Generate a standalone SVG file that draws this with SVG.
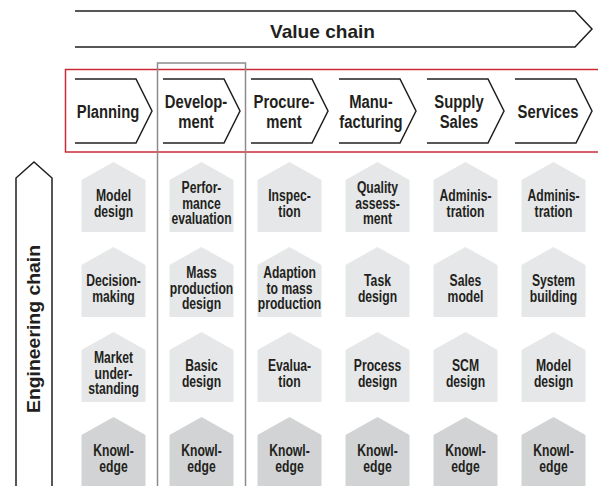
<svg xmlns="http://www.w3.org/2000/svg" width="598" height="486" viewBox="0 0 598 486">
<style>
.ln{fill:none;stroke:#231f20;stroke-width:1.5;stroke-linejoin:miter}
.t{font-family:"Liberation Sans",Arial,sans-serif;font-weight:bold;fill:#231f20;text-anchor:middle}
.big{font-family:"Liberation Sans",Arial,sans-serif;font-weight:bold;fill:#231f20;text-anchor:middle;font-size:19px}
.hd{font-size:19px}
.hs{font-size:16px}
.h1{fill:#e6e7e8}
.h2{fill:#d1d3d4}
</style>
<g id="value-chain">
<path class="ln" d="M75,11 H575 L592,29 L575,47 H75"/>
<text class="big" x="322.5" y="38" textLength="105" lengthAdjust="spacingAndGlyphs">Value chain</text>
</g>
<g id="engineering-chain">
<path class="ln" d="M16,490 V178 L34,162 L52,178 V490"/>
<text class="big" transform="translate(40,329) rotate(-90)" x="0" y="0" textLength="168" lengthAdjust="spacingAndGlyphs">Engineering chain</text>
</g>
<g id="value-chain-steps">
<rect x="65.5" y="69.5" width="560" height="82.5" fill="none" stroke="#cc2a36" stroke-width="1.5"/>
<g id="step-planning"><path class="ln" d="M75,79 H136 L152,111 L136,143 H75"/><text class="t hd" transform="matrix(0.78,0,0,1,108,118)">Planning</text></g>
<g id="step-development"><path class="ln" d="M163,79 H224 L240,111 L224,143 H163"/><text class="t hd" transform="matrix(0.78,0,0,1,196,108)">Develop-</text><text class="t hd" transform="matrix(0.78,0,0,1,196,128)">ment</text></g>
<g id="step-procurement"><path class="ln" d="M251,79 H312 L328,111 L312,143 H251"/><text class="t hd" transform="matrix(0.78,0,0,1,284,108)">Procure-</text><text class="t hd" transform="matrix(0.78,0,0,1,284,128)">ment</text></g>
<g id="step-manufacturing"><path class="ln" d="M339,79 H400 L416,111 L400,143 H339"/><text class="t hd" transform="matrix(0.78,0,0,1,371,108)">Manu-</text><text class="t hd" transform="matrix(0.78,0,0,1,371,128)">facturing</text></g>
<g id="step-supply"><path class="ln" d="M427,79 H488 L504,111 L488,143 H427"/><text class="t hd" transform="matrix(0.78,0,0,1,459,108)">Supply</text><text class="t hd" transform="matrix(0.78,0,0,1,459,128)">Sales</text></g>
<g id="step-services"><path class="ln" d="M515,79 H576 L592,111 L576,143 H515"/><text class="t hd" transform="matrix(0.78,0,0,1,548,118)">Services</text></g>
</g>
<rect id="development-column" x="157.5" y="63" width="88" height="440" fill="none" stroke="#8c8c8c" stroke-width="1.5"/>
<g id="houses">
<g id="c0r0"><polygon class="h1" points="81.5,180 113.5,162 145.5,180 145.5,232 81.5,232"/><text class="t hs" transform="matrix(0.76,0,0,1,113.5,201)">Model</text><text class="t hs" transform="matrix(0.76,0,0,1,113.5,216.5)">design</text></g>
<g id="c0r1"><polygon class="h1" points="81.5,265 113.5,247 145.5,265 145.5,317 81.5,317"/><text class="t hs" transform="matrix(0.76,0,0,1,113.5,286)">Decision-</text><text class="t hs" transform="matrix(0.76,0,0,1,113.5,301.5)">making</text></g>
<g id="c0r2"><polygon class="h1" points="81.5,350 113.5,332 145.5,350 145.5,402 81.5,402"/><text class="t hs" transform="matrix(0.76,0,0,1,113.5,363)">Market</text><text class="t hs" transform="matrix(0.76,0,0,1,113.5,378.5)">under-</text><text class="t hs" transform="matrix(0.76,0,0,1,113.5,394)">standing</text></g>
<g id="c0r3"><polygon class="h2" points="81.5,435 113.5,417 145.5,435 145.5,490 81.5,490"/><text class="t hs" transform="matrix(0.76,0,0,1,113.5,456)">Knowl-</text><text class="t hs" transform="matrix(0.76,0,0,1,113.5,471.5)">edge</text></g>
<g id="c1r0"><polygon class="h1" points="169.5,180 201.5,162 233.5,180 233.5,232 169.5,232"/><text class="t hs" transform="matrix(0.76,0,0,1,201.5,193)">Perfor-</text><text class="t hs" transform="matrix(0.76,0,0,1,201.5,208.5)">mance</text><text class="t hs" transform="matrix(0.76,0,0,1,201.5,224)">evaluation</text></g>
<g id="c1r1"><polygon class="h1" points="169.5,265 201.5,247 233.5,265 233.5,317 169.5,317"/><text class="t hs" transform="matrix(0.76,0,0,1,201.5,278)">Mass</text><text class="t hs" transform="matrix(0.76,0,0,1,201.5,293.5)">production</text><text class="t hs" transform="matrix(0.76,0,0,1,201.5,309)">design</text></g>
<g id="c1r2"><polygon class="h1" points="169.5,350 201.5,332 233.5,350 233.5,402 169.5,402"/><text class="t hs" transform="matrix(0.76,0,0,1,201.5,371)">Basic</text><text class="t hs" transform="matrix(0.76,0,0,1,201.5,386.5)">design</text></g>
<g id="c1r3"><polygon class="h2" points="169.5,435 201.5,417 233.5,435 233.5,490 169.5,490"/><text class="t hs" transform="matrix(0.76,0,0,1,201.5,456)">Knowl-</text><text class="t hs" transform="matrix(0.76,0,0,1,201.5,471.5)">edge</text></g>
<g id="c2r0"><polygon class="h1" points="257.5,180 289.5,162 321.5,180 321.5,232 257.5,232"/><text class="t hs" transform="matrix(0.76,0,0,1,289.5,201)">Inspec-</text><text class="t hs" transform="matrix(0.76,0,0,1,289.5,216.5)">tion</text></g>
<g id="c2r1"><polygon class="h1" points="257.5,265 289.5,247 321.5,265 321.5,317 257.5,317"/><text class="t hs" transform="matrix(0.76,0,0,1,289.5,278)">Adaption</text><text class="t hs" transform="matrix(0.76,0,0,1,289.5,293.5)">to mass</text><text class="t hs" transform="matrix(0.76,0,0,1,289.5,309)">production</text></g>
<g id="c2r2"><polygon class="h1" points="257.5,350 289.5,332 321.5,350 321.5,402 257.5,402"/><text class="t hs" transform="matrix(0.76,0,0,1,289.5,371)">Evalua-</text><text class="t hs" transform="matrix(0.76,0,0,1,289.5,386.5)">tion</text></g>
<g id="c2r3"><polygon class="h2" points="257.5,435 289.5,417 321.5,435 321.5,490 257.5,490"/><text class="t hs" transform="matrix(0.76,0,0,1,289.5,456)">Knowl-</text><text class="t hs" transform="matrix(0.76,0,0,1,289.5,471.5)">edge</text></g>
<g id="c3r0"><polygon class="h1" points="345.5,180 377.5,162 409.5,180 409.5,232 345.5,232"/><text class="t hs" transform="matrix(0.76,0,0,1,377.5,193)">Quality</text><text class="t hs" transform="matrix(0.76,0,0,1,377.5,208.5)">assess-</text><text class="t hs" transform="matrix(0.76,0,0,1,377.5,224)">ment</text></g>
<g id="c3r1"><polygon class="h1" points="345.5,265 377.5,247 409.5,265 409.5,317 345.5,317"/><text class="t hs" transform="matrix(0.76,0,0,1,377.5,286)">Task</text><text class="t hs" transform="matrix(0.76,0,0,1,377.5,301.5)">design</text></g>
<g id="c3r2"><polygon class="h1" points="345.5,350 377.5,332 409.5,350 409.5,402 345.5,402"/><text class="t hs" transform="matrix(0.76,0,0,1,377.5,371)">Process</text><text class="t hs" transform="matrix(0.76,0,0,1,377.5,386.5)">design</text></g>
<g id="c3r3"><polygon class="h2" points="345.5,435 377.5,417 409.5,435 409.5,490 345.5,490"/><text class="t hs" transform="matrix(0.76,0,0,1,377.5,456)">Knowl-</text><text class="t hs" transform="matrix(0.76,0,0,1,377.5,471.5)">edge</text></g>
<g id="c4r0"><polygon class="h1" points="433.5,180 465.5,162 497.5,180 497.5,232 433.5,232"/><text class="t hs" transform="matrix(0.76,0,0,1,465.5,201)">Adminis-</text><text class="t hs" transform="matrix(0.76,0,0,1,465.5,216.5)">tration</text></g>
<g id="c4r1"><polygon class="h1" points="433.5,265 465.5,247 497.5,265 497.5,317 433.5,317"/><text class="t hs" transform="matrix(0.76,0,0,1,465.5,286)">Sales</text><text class="t hs" transform="matrix(0.76,0,0,1,465.5,301.5)">model</text></g>
<g id="c4r2"><polygon class="h1" points="433.5,350 465.5,332 497.5,350 497.5,402 433.5,402"/><text class="t hs" transform="matrix(0.76,0,0,1,465.5,371)">SCM</text><text class="t hs" transform="matrix(0.76,0,0,1,465.5,386.5)">design</text></g>
<g id="c4r3"><polygon class="h2" points="433.5,435 465.5,417 497.5,435 497.5,490 433.5,490"/><text class="t hs" transform="matrix(0.76,0,0,1,465.5,456)">Knowl-</text><text class="t hs" transform="matrix(0.76,0,0,1,465.5,471.5)">edge</text></g>
<g id="c5r0"><polygon class="h1" points="521.5,180 553.5,162 585.5,180 585.5,232 521.5,232"/><text class="t hs" transform="matrix(0.76,0,0,1,553.5,201)">Adminis-</text><text class="t hs" transform="matrix(0.76,0,0,1,553.5,216.5)">tration</text></g>
<g id="c5r1"><polygon class="h1" points="521.5,265 553.5,247 585.5,265 585.5,317 521.5,317"/><text class="t hs" transform="matrix(0.76,0,0,1,553.5,286)">System</text><text class="t hs" transform="matrix(0.76,0,0,1,553.5,301.5)">building</text></g>
<g id="c5r2"><polygon class="h1" points="521.5,350 553.5,332 585.5,350 585.5,402 521.5,402"/><text class="t hs" transform="matrix(0.76,0,0,1,553.5,371)">Model</text><text class="t hs" transform="matrix(0.76,0,0,1,553.5,386.5)">design</text></g>
<g id="c5r3"><polygon class="h2" points="521.5,435 553.5,417 585.5,435 585.5,490 521.5,490"/><text class="t hs" transform="matrix(0.76,0,0,1,553.5,456)">Knowl-</text><text class="t hs" transform="matrix(0.76,0,0,1,553.5,471.5)">edge</text></g>
</g>
<g id="connectors"/>
</svg>
